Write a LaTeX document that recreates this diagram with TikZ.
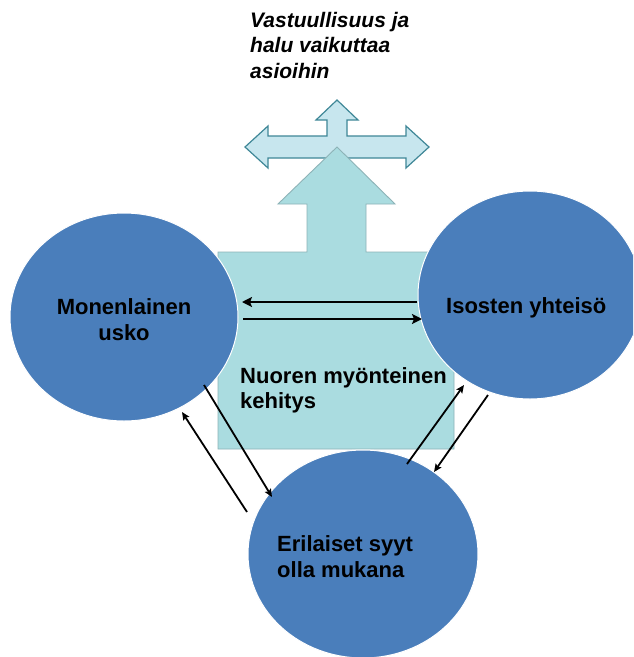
\documentclass[tikz,border=0pt]{standalone}
\usepackage{fontspec}
\setmainfont{Liberation Sans}
\usetikzlibrary{shapes.geometric,arrows.meta,calc}
\definecolor{circblue}{HTML}{4A7EBB}
\definecolor{boxfill}{HTML}{AADCE0}
\definecolor{boxline}{HTML}{8DB3B7}
\definecolor{crossfill}{HTML}{C7E6EE}
\definecolor{crossline}{HTML}{3F8797}
\begin{document}
\begin{tikzpicture}[x=1pt,y=-1pt,
  circ/.style={shape=ellipse,fill=circblue,draw=white,line width=1pt,inner sep=0pt},
  lbl/.style={inner sep=0pt,font=\bfseries\fontsize{22}{26}\selectfont,text=black},
  titletxt/.style={inner sep=0pt,align=left,font=\bfseries\itshape\fontsize{21}{25.5}\selectfont,text=black},
  bigarrow/.style={line width=2.6pt,-{Stealth[length=10pt,width=10pt,inset=2pt]}},
  smallarrow/.style={line width=1.8pt,-{Stealth[length=8pt,width=7pt,inset=1.5pt]}},
  crossshape/.style={fill=crossfill,draw=crossline,line width=1.2pt,line join=miter},
  boxshape/.style={fill=boxfill,draw=boxline,line width=0.9pt,line join=miter}]
\clip (0,0) rectangle (633,657);
\fill[white] (0,0) rectangle (633,657);
% cross arrow
\draw[crossshape] (245,147) -- (268,126) -- (268,136) -- (327,136) -- (327,120) -- (316,120)
  -- (337,100) -- (358,120) -- (347,120) -- (347,136) -- (406,136) -- (406,126) -- (429,147)
  -- (406,168) -- (406,158) -- (268,158) -- (268,168) -- cycle;
% box with up arrow
\draw[boxshape] (218,449) -- (218,252) -- (307,252) -- (307,204) -- (278,204) -- (337,147)
  -- (395,204) -- (366,204) -- (366,252) -- (454,252) -- (454,449) -- cycle;
% circles
\node[circ,minimum width=228pt,minimum height=208pt] (L) at (124,317) {};
\node[circ,minimum width=224pt,minimum height=208pt] (R) at (530,295) {};
\node[circ,minimum width=230pt,minimum height=208pt] (B) at (363,554) {};
% labels
\node[titletxt,anchor=north west] (title) at (250,12) {Vastuullisuus ja\\halu vaikuttaa\\asioihin};
\node[lbl,align=center,anchor=north] (Ltxt) at (124,298) {Monenlainen\\usko};
\node[lbl,anchor=north west] (Rtxt) at (446,297) {Isosten yhteisö};
\node[lbl,align=left,anchor=north west] (Btxt) at (277,535) {Erilaiset syyt\\olla mukana};
\node[lbl,align=left,anchor=north west,font=\bfseries\fontsize{22}{25.5}\selectfont] (Ntxt) at (240,367) {Nuoren myönteinen\\kehitys};
% connectors
\draw[bigarrow] ($(R)+(-113,7)$) -- ($(L)+(118,-15)$);
\draw[bigarrow] ($(L)+(119,2)$) -- ($(R)+(-108,24)$);
\draw[smallarrow] ($(L)+(80,68)$) -- ($(B)+(-91,-57)$);
\draw[smallarrow] ($(B)+(-116,-42)$) -- ($(L)+(58,95)$);
\draw[smallarrow] ($(B)+(44,-90)$) -- ($(R)+(-66,90)$);
\draw[smallarrow] ($(R)+(-42,100)$) -- ($(B)+(71,-82)$);
\end{tikzpicture}
\end{document}
